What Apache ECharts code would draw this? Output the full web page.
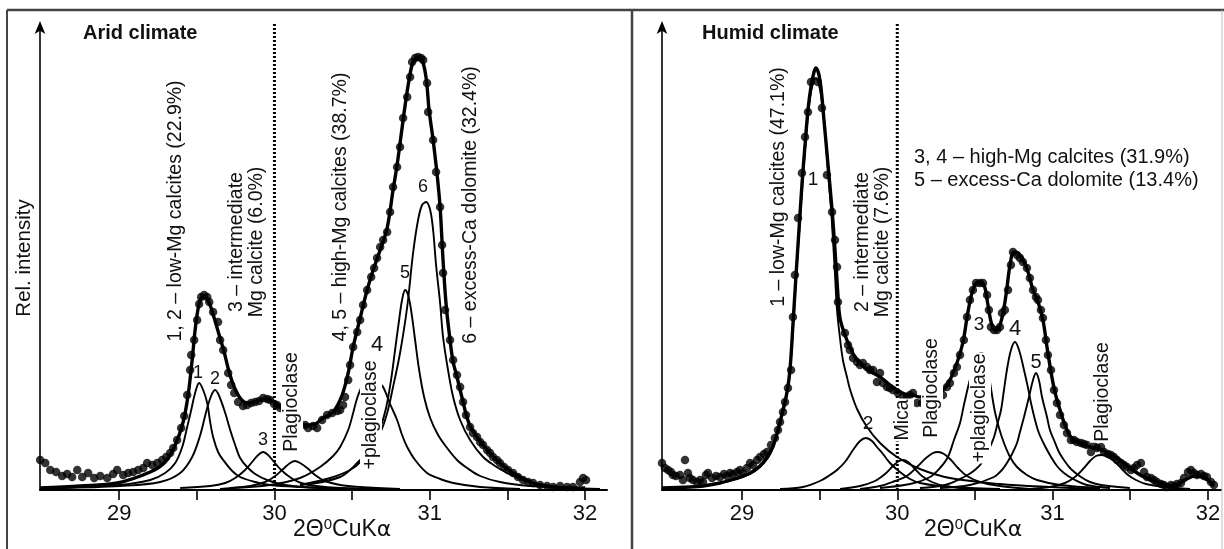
<!DOCTYPE html>
<html><head><meta charset="utf-8">
<script src="https://cdn.jsdelivr.net/npm/echarts@6/dist/echarts.min.js"></script>
<style>html,body{margin:0;padding:0;background:#fff}#c{width:1224px;height:549px}</style>
</head><body><div id="c"></div>
<script>
// ---------- DATA (x = 2Theta CuKa, y = relative intensity) ----------
const tickValues = [29, 29.5, 30, 30.5, 31, 31.5, 32];
const tickLabels = [29, 30, 31, 32];
const markerLine = [[30, 0], [30, 466]];

// Arid climate
const aridEnvelope = [[28.491,2],[28.749,4],[28.987,7],[29.200,18],[29.296,28],[29.361,45],[29.412,68],[29.444,95],[29.470,130],[29.489,160],[29.509,182],[29.528,192],[29.554,193],[29.580,187],[29.612,172],[29.644,155],[29.676,138],[29.708,118],[29.741,103],[29.779,92],[29.824,87],[29.876,88],[29.927,91],[29.972,90],[30.017,86],[30.069,78],[30.133,70],[30.198,65],[30.262,66],[30.314,72],[30.378,78],[30.436,95],[30.475,117],[30.507,143],[30.552,172],[30.597,200],[30.636,220],[30.681,240],[30.726,262],[30.764,300],[30.790,325],[30.816,355],[30.842,385],[30.867,410],[30.893,428],[30.925,432],[30.951,430],[30.977,412],[30.996,380],[31.022,350],[31.048,315],[31.067,283],[31.086,230],[31.106,185],[31.131,150],[31.151,128],[31.176,113],[31.196,100],[31.215,88],[31.234,76],[31.260,64],[31.305,53],[31.370,40],[31.453,27],[31.537,17],[31.666,7],[31.795,3],[32.001,2]];
const aridDots = [[28.491,30],[28.524,27],[28.556,20],[28.594,18],[28.633,14],[28.665,16],[28.697,13],[28.730,20],[28.762,13],[28.800,17],[28.839,12],[28.878,14],[28.923,12],[28.961,16],[28.987,20],[29.026,15],[29.058,17],[29.090,18],[29.122,20],[29.155,22],[29.180,27],[29.213,25],[29.245,27],[29.277,30],[29.303,33],[29.328,37],[29.348,42],[29.373,50],[29.399,62],[29.419,74],[29.438,95],[29.457,120],[29.464,135],[29.483,150],[29.502,170],[29.515,186],[29.528,193],[29.547,195],[29.567,193],[29.580,188],[29.605,178],[29.637,168],[29.650,150],[29.670,140],[29.702,117],[29.721,105],[29.741,97],[29.766,88],[29.798,84],[29.824,85],[29.850,87],[29.876,88],[29.901,89],[29.927,92],[29.953,91],[29.972,90],[29.998,86],[30.017,85],[30.037,82],[30.198,65],[30.217,62],[30.249,64],[30.275,62],[30.307,70],[30.339,75],[30.372,77],[30.404,79],[30.423,80],[30.442,85],[30.455,93],[30.475,110],[30.487,125],[30.507,143],[30.533,158],[30.552,170],[30.571,185],[30.597,200],[30.623,213],[30.642,222],[30.661,232],[30.681,243],[30.700,250],[30.726,258],[30.745,278],[30.764,303],[30.790,323],[30.809,343],[30.829,372],[30.855,393],[30.874,413],[30.887,428],[30.906,432],[30.925,433],[30.945,432],[30.958,430],[30.983,407],[30.990,378],[31.022,350],[31.041,318],[31.067,283],[31.080,245],[31.086,217],[31.099,180],[31.131,150],[31.151,130],[31.176,115],[31.196,103],[31.215,88],[31.234,75],[31.260,63],[31.279,57],[31.305,53],[31.325,48],[31.344,45],[31.370,40],[31.389,37],[31.408,33],[31.434,30],[31.453,27],[31.479,23],[31.505,20],[31.537,17],[31.569,13],[31.601,10],[31.634,8],[31.666,7],[31.711,5],[31.756,4],[31.795,3],[31.840,4],[31.885,3],[31.923,3],[31.968,8],[31.988,12],[32.007,10]];
const aridPeak1 = [[28.491,2],[28.749,3],[29.006,5],[29.200,10],[29.296,17],[29.361,27],[29.406,43],[29.438,63],[29.464,80],[29.489,97],[29.515,107],[29.541,100],[29.567,87],[29.586,68],[29.605,53],[29.637,38],[29.670,30],[29.728,19],[29.779,13],[29.876,8],[29.972,5],[30.165,3],[30.487,1]];
const aridPeak2 = [[28.620,2],[29.006,4],[29.264,8],[29.393,17],[29.470,33],[29.522,55],[29.560,78],[29.592,94],[29.618,100],[29.644,94],[29.683,77],[29.715,60],[29.747,45],[29.779,32],[29.824,23],[29.876,16],[29.953,10],[30.069,5],[30.294,2],[30.681,1]];
const aridPeak3 = [[29.393,2],[29.586,4],[29.683,7],[29.747,12],[29.811,20],[29.856,28],[29.895,35],[29.927,38],[29.959,35],[29.998,28],[30.043,20],[30.108,12],[30.172,7],[30.269,4],[30.423,2],[30.681,1]];
const aridPlag = [[29.650,1],[29.844,4],[29.940,8],[30.005,14],[30.056,21],[30.101,27],[30.133,29],[30.165,27],[30.211,22],[30.262,15],[30.326,9],[30.423,5],[30.552,3],[30.809,1]];
const aridPeak4 = [[29.715,2],[29.972,5],[30.165,12],[30.294,23],[30.378,34],[30.423,43],[30.475,60],[30.507,77],[30.533,92],[30.565,104],[30.603,111],[30.636,112],[30.668,108],[30.700,103],[30.745,86],[30.790,70],[30.822,55],[30.855,43],[30.906,30],[30.983,17],[31.067,11],[31.151,7],[31.325,3],[31.582,1]];
const aridPeak5 = [[30.165,5],[30.359,12],[30.487,20],[30.565,30],[30.629,45],[30.681,62],[30.719,82],[30.751,110],[30.777,140],[30.803,170],[30.822,190],[30.842,200],[30.861,195],[30.880,180],[30.906,150],[30.932,120],[30.964,93],[31.003,72],[31.054,55],[31.112,42],[31.176,30],[31.241,22],[31.325,14],[31.453,8],[31.647,4],[31.904,2]];
const aridPeak6 = [[30.165,5],[30.423,13],[30.552,30],[30.616,40],[30.681,57],[30.726,77],[30.764,103],[30.809,137],[30.855,183],[30.893,237],[30.925,270],[30.951,285],[30.977,288],[31.003,280],[31.022,260],[31.041,225],[31.067,187],[31.086,153],[31.118,120],[31.151,93],[31.196,70],[31.260,50],[31.344,33],[31.421,24],[31.498,17],[31.582,11],[31.666,7],[31.775,4],[31.904,2],[32.097,1]];

// Humid climate
const humidEnvelope = [[28.485,2],[28.665,3],[28.749,4],[28.858,7],[28.968,12],[29.052,17],[29.116,24],[29.167,34],[29.200,44],[29.232,60],[29.264,80],[29.290,98],[29.309,120],[29.328,165],[29.348,215],[29.367,260],[29.386,305],[29.406,345],[29.425,380],[29.444,403],[29.464,418],[29.476,422],[29.502,410],[29.528,370],[29.554,325],[29.580,280],[29.599,240],[29.618,195],[29.631,172],[29.663,155],[29.695,143],[29.728,133],[29.779,124],[29.824,119],[29.889,113],[29.953,105],[29.998,100],[30.050,96],[30.101,95],[30.146,93],[30.211,94],[30.294,100],[30.339,110],[30.384,127],[30.423,148],[30.455,178],[30.487,200],[30.520,208],[30.558,205],[30.584,185],[30.610,165],[30.642,160],[30.674,172],[30.700,195],[30.726,225],[30.751,238],[30.784,236],[30.816,228],[30.842,218],[30.874,200],[30.906,188],[30.938,170],[30.964,143],[30.990,118],[31.015,98],[31.048,80],[31.080,65],[31.118,53],[31.176,47],[31.241,43],[31.312,40],[31.370,36],[31.434,30],[31.498,22],[31.589,13],[31.698,7],[31.782,4],[31.853,10],[31.917,14],[31.981,12],[32.039,4]];
const humidDots = [[28.485,27],[28.504,22],[28.524,20],[28.543,18],[28.556,15],[28.575,14],[28.601,15],[28.620,10],[28.633,30],[28.652,17],[28.665,12],[28.684,10],[28.710,8],[28.730,10],[28.749,8],[28.768,15],[28.781,17],[28.807,12],[28.833,14],[28.858,13],[28.884,16],[28.903,14],[28.923,17],[28.942,16],[28.968,18],[28.987,20],[29.006,17],[29.032,22],[29.052,27],[29.071,25],[29.097,30],[29.116,33],[29.142,36],[29.161,38],[29.187,45],[29.212,52],[29.232,60],[29.245,68],[29.264,78],[29.277,88],[29.296,102],[29.316,120],[29.328,173],[29.341,215],[29.361,272],[29.386,317],[29.406,353],[29.425,378],[29.444,408],[29.489,408],[29.515,382],[29.547,315],[29.580,278],[29.599,250],[29.612,223],[29.618,188],[29.663,157],[29.683,145],[29.695,140],[29.715,132],[29.741,128],[29.760,125],[29.779,127],[29.805,123],[29.824,120],[29.844,120],[29.869,108],[29.889,117],[29.908,107],[29.934,103],[29.953,102],[29.972,100],[30.004,97],[30.037,93],[30.062,93],[30.082,95],[30.101,97],[30.127,87],[30.159,87],[30.294,95],[30.320,103],[30.339,107],[30.365,117],[30.384,123],[30.404,135],[30.429,150],[30.449,173],[30.468,190],[30.487,200],[30.507,207],[30.533,207],[30.552,207],[30.578,195],[30.590,180],[30.603,163],[30.623,160],[30.642,160],[30.661,163],[30.674,177],[30.693,180],[30.713,200],[30.732,225],[30.745,238],[30.771,235],[30.790,232],[30.809,228],[30.835,222],[30.854,212],[30.874,200],[30.893,193],[30.906,190],[30.925,180],[30.938,172],[30.957,150],[30.970,135],[30.990,120],[31.009,100],[31.028,87],[31.048,75],[31.073,65],[31.093,57],[31.118,50],[31.138,50],[31.157,48],[31.183,47],[31.202,46],[31.221,45],[31.247,38],[31.267,44],[31.286,42],[31.312,43],[31.331,38],[31.357,36],[31.376,35],[31.395,33],[31.415,30],[31.440,27],[31.460,25],[31.479,23],[31.505,20],[31.524,22],[31.544,25],[31.569,27],[31.589,18],[31.608,13],[31.634,12],[31.653,10],[31.672,8],[31.698,6],[31.717,5],[31.737,3],[31.762,5],[31.782,4],[31.801,6],[31.827,7],[31.846,12],[31.872,18],[31.891,20],[31.911,17],[31.930,15],[31.956,16],[31.975,14],[31.994,13],[32.020,8],[32.039,5]];
const humidPeak1 = [[28.485,2],[28.665,3],[28.794,5],[28.968,11],[29.052,16],[29.116,23],[29.167,32],[29.200,42],[29.232,58],[29.264,78],[29.290,96],[29.309,118],[29.328,160],[29.348,210],[29.367,255],[29.386,298],[29.406,340],[29.425,375],[29.444,398],[29.464,410],[29.476,412],[29.496,405],[29.515,388],[29.534,360],[29.554,318],[29.573,282],[29.586,250],[29.599,215],[29.612,180],[29.631,152],[29.650,130],[29.676,113],[29.695,101],[29.741,81],[29.805,63],[29.889,47],[29.998,33],[30.146,21],[30.339,12],[30.661,6],[30.983,3],[31.305,1]];
const humidPeak2 = [[29.245,1],[29.393,3],[29.502,9],[29.567,15],[29.612,20],[29.663,28],[29.715,40],[29.760,49],[29.798,52],[29.837,49],[29.869,43],[29.908,36],[29.953,27],[30.017,18],[30.082,11],[30.146,7],[30.275,4],[30.468,2],[30.661,1]];
const humidMica = [[29.631,1],[29.760,4],[29.856,9],[29.921,16],[29.972,24],[30.011,29],[30.037,30],[30.069,28],[30.108,22],[30.159,14],[30.223,8],[30.307,4],[30.468,1]];
const humidPlag1 = [[29.760,1],[29.889,4],[29.985,9],[30.062,14],[30.133,24],[30.185,32],[30.230,37],[30.262,38],[30.301,36],[30.346,30],[30.391,22],[30.449,14],[30.533,8],[30.661,4],[30.854,1]];
const humidPeak3 = [[29.889,2],[30.082,6],[30.211,13],[30.275,22],[30.326,33],[30.365,50],[30.404,67],[30.429,85],[30.462,107],[30.494,125],[30.520,135],[30.545,137],[30.571,130],[30.590,115],[30.610,95],[30.629,78],[30.655,62],[30.687,47],[30.726,33],[30.771,23],[30.835,15],[30.900,10],[31.048,5],[31.305,2]];
const humidPeak4 = [[30.146,2],[30.307,5],[30.429,13],[30.500,20],[30.558,30],[30.597,43],[30.623,53],[30.648,68],[30.668,80],[30.687,100],[30.706,120],[30.732,140],[30.758,148],[30.784,140],[30.816,120],[30.842,102],[30.861,87],[30.887,70],[30.912,57],[30.951,44],[30.990,33],[31.028,24],[31.073,17],[31.144,10],[31.221,5],[31.370,2]];
const humidPeak5 = [[30.275,2],[30.468,5],[30.623,13],[30.674,20],[30.706,27],[30.739,36],[30.771,47],[30.790,58],[30.816,73],[30.848,93],[30.874,110],[30.893,117],[30.912,110],[30.932,93],[30.964,73],[30.983,60],[31.009,50],[31.041,38],[31.073,30],[31.118,21],[31.183,13],[31.241,8],[31.312,5],[31.498,2]];
const humidPlag2 = [[30.854,1],[30.983,3],[31.080,7],[31.144,13],[31.196,21],[31.241,29],[31.279,34],[31.318,35],[31.357,33],[31.402,28],[31.440,22],[31.486,15],[31.537,10],[31.601,6],[31.724,3],[31.885,1]];

// ---------- CHART ----------
const F = "'Liberation Sans', Arial, Helvetica, sans-serif";
const INK = '#111';
const chart = echarts.init(document.getElementById('c'), null, {renderer: 'canvas'});

function xAxisDef(idx, min, max) {
  return {
    type: 'value', gridIndex: idx, min: min, max: max,
    axisLine: {show: true, lineStyle: {color: '#000', width: 2}},
    axisTick: {show: true, customValues: tickValues, length: 10, inside: false, lineStyle: {color: '#000', width: 1.6}},
    axisLabel: {show: true, customValues: tickLabels, fontSize: 22, fontFamily: F, color: INK, margin: 13},
    splitLine: {show: false}
  };
}
function yAxisDef(idx) {
  return {
    type: 'value', gridIndex: idx, min: 0, max: 465,
    axisLine: {show: true, symbol: ['none', 'arrow'], symbolSize: [8, 13], symbolOffset: [0, 4], lineStyle: {color: '#000', width: 1.6}},
    axisTick: {show: false}, axisLabel: {show: false}, splitLine: {show: false}
  };
}
function comp(idx, data) {
  return {type: 'line', xAxisIndex: idx, yAxisIndex: idx, data: data, smooth: 0.35, symbol: 'none',
    lineStyle: {color: '#000', width: 1.9}, z: 2, silent: true};
}
function envelope(idx, data) {
  return {type: 'line', xAxisIndex: idx, yAxisIndex: idx, data: data, smooth: 0.35, symbol: 'none',
    lineStyle: {color: '#000', width: 3.4}, z: 3, silent: true};
}
function dotted(idx) {
  return {type: 'line', xAxisIndex: idx, yAxisIndex: idx, data: markerLine, symbol: 'none', clip: false,
    lineStyle: {color: '#000', width: 3, type: [2, 2]}, z: 1, silent: true};
}
function dots(idx, data) {
  return {type: 'scatter', xAxisIndex: idx, yAxisIndex: idx, data: data, symbol: 'circle', symbolSize: 8.5,
    itemStyle: {color: '#000'}, z: 4, silent: true};
}

function txt(x, y, text, o) {
  o = o || {};
  const st = {text: text, fontSize: o.size || 19.5, fontFamily: o.family || F, fontWeight: o.weight || 'normal',
    fill: INK, textAlign: o.align || 'center', align: o.align || 'center',
    textVerticalAlign: 'middle', verticalAlign: 'middle', lineHeight: o.lh || 22};
  if (o.bg) { st.backgroundColor = '#fff'; st.padding = [0, 1]; }
  if (o.rich) st.rich = o.rich;
  return {type: 'text', x: x, y: y, rotation: o.rot ? Math.PI / 2 : 0, z: 50, style: st, silent: true};
}
const axisRich = {
  n: {fontSize: 23, fontFamily: F, fill: INK},
  s: {fontSize: 15, fontFamily: F, fill: INK, verticalAlign: 'top', lineHeight: 26},
  g: {fontSize: 22, fontFamily: "'DejaVu Sans', sans-serif", fill: INK}
};

const frame = [
  {type: 'line', z: 40, shape: {x1: 7, y1: 10, x2: 1224, y2: 10}, style: {stroke: '#444', lineWidth: 2.5}},
  {type: 'line', z: 40, shape: {x1: 7, y1: 10, x2: 7, y2: 549}, style: {stroke: '#444', lineWidth: 2}},
  {type: 'line', z: 40, shape: {x1: 632, y1: 10, x2: 632, y2: 549}, style: {stroke: '#444', lineWidth: 2.5}},
  {type: 'line', z: 40, shape: {x1: 1222, y1: 10, x2: 1222, y2: 549}, style: {stroke: '#bbb', lineWidth: 1}}
];

const texts = [
  txt(24, 258, 'Rel. intensity', {rot: true, size: 20.5}),
  txt(83, 33, 'Arid climate', {align: 'left', weight: 'bold', size: 20}),
  txt(176, 211, '1, 2 – low-Mg calcites (22.9%)', {rot: true}),
  txt(247, 242, '3 – intermediate\nMg calcite (6.0%)', {rot: true, lh: 20}),
  txt(292, 402, 'Plagioclase', {rot: true, bg: true}),
  txt(341, 207, '4, 5 – high-Mg calcites (38.7%)', {rot: true}),
  txt(371, 415, '+plagioclase', {rot: true, bg: true}),
  txt(471, 205, '6 – excess-Ca dolomite (32.4%)', {rot: true}),
  txt(198, 373, '1', {size: 18}), txt(215, 379, '2', {size: 18}), txt(263, 440, '3', {size: 18}),
  txt(377, 345, '4', {size: 22}), txt(405, 273, '5', {size: 18}), txt(423, 187, '6', {size: 18}),
  txt(293, 530, '{n|2Θ}{s|0}{n|CuK}{g|α}', {align: 'left', rich: axisRich}),

  txt(702, 33, 'Humid climate', {align: 'left', weight: 'bold', size: 20}),
  txt(779, 187, '1 – low-Mg calcites (47.1%)', {rot: true}),
  txt(873, 242, '2 – intermediate\nMg calcite (7.6%)', {rot: true, lh: 20}),
  txt(914, 157, '3, 4 – high-Mg calcites (31.9%)', {align: 'left', size: 20}),
  txt(914, 180, '5 – excess-Ca dolomite (13.4%)', {align: 'left', size: 20}),
  txt(903, 420, 'Mica', {rot: true, bg: true}),
  txt(932, 388, 'Plagioclase', {rot: true, bg: true}),
  txt(980, 408, '+plagioclase', {rot: true, bg: true}),
  txt(1103, 392, 'Plagioclase', {rot: true, bg: true}),
  txt(813, 180, '1', {size: 19}), txt(868, 424, '2', {size: 19}), txt(979, 325, '3', {size: 19}),
  txt(1015, 329, '4', {size: 22}), txt(1036, 362, '5', {size: 20}),
  txt(924, 530, '{n|2Θ}{s|0}{n|CuK}{g|α}', {align: 'left', rich: axisRich})
];

chart.setOption({
  animation: false,
  backgroundColor: '#fff',
  grid: [
    {left: 40, top: 25, width: 567, height: 465},
    {left: 662, top: 25, width: 559, height: 465}
  ],
  xAxis: [xAxisDef(0, 28.49, 32.142), xAxisDef(1, 28.485, 32.0845)],
  yAxis: [yAxisDef(0), yAxisDef(1)],
  series: [
    dotted(0),
    comp(0, aridPeak1), comp(0, aridPeak2), comp(0, aridPeak3), comp(0, aridPlag),
    comp(0, aridPeak4), comp(0, aridPeak5), comp(0, aridPeak6),
    envelope(0, aridEnvelope), dots(0, aridDots),
    dotted(1),
    comp(1, humidPeak1), comp(1, humidPeak2), comp(1, humidMica), comp(1, humidPlag1),
    comp(1, humidPeak3), comp(1, humidPeak4), comp(1, humidPeak5), comp(1, humidPlag2),
    envelope(1, humidEnvelope), dots(1, humidDots)
  ],
  graphic: {elements: frame.concat(texts)}
});
</script>
</body></html>
